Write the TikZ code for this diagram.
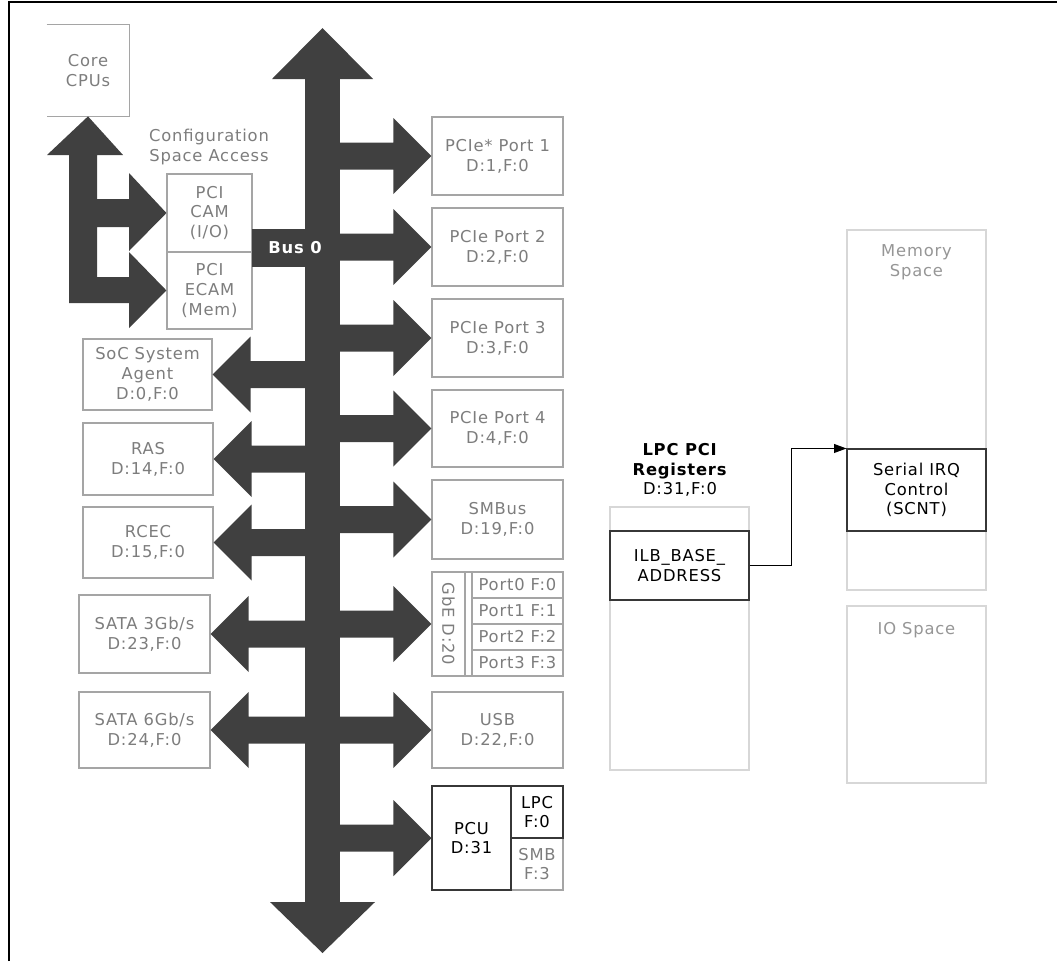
\documentclass[tikz,border=0pt]{standalone}
\usepackage{fontspec}
\setmainfont{DejaVu Sans}[LetterSpace=5]
\usetikzlibrary{arrows.meta,calc}
\definecolor{busgray}{RGB}{64,64,64}
\definecolor{edgegray}{RGB}{165,165,165}
\definecolor{palegray}{RGB}{215,215,215}
\definecolor{txtgray}{RGB}{125,125,125}
\definecolor{paletxt}{RGB}{150,150,150}
\definecolor{darkedge}{RGB}{55,55,55}
\tikzset{
  >={Triangle[length=7pt,width=5pt]},
  wh/.style 2 args={minimum width=#1*0.02cm,minimum height=#2*0.02cm},
  base/.style={inner sep=0pt,align=center,font=\fontsize{9.3}{11.3}\selectfont},
  gbox/.style={base,draw=edgegray,line width=0.6pt,fill=white,text=txtgray},
  kbox/.style={base,draw=darkedge,line width=0.6pt,fill=white,text=black},
  pbox/.style={base,draw=palegray,line width=0.8pt,fill=white,text=paletxt},
  tag/.style={base,text=txtgray},
  bus/.style={fill=busgray},
}
\begin{document}
\begin{tikzpicture}[x=0.02cm,y=-0.02cm]
  \useasboundingbox (0,0) rectangle (1057,961);
  % frame
  \draw[line width=0.035cm] (9,961) -- (9,2) -- (1057,2);

  % core cpus and configuration access
  \node[base,wh={82}{91},text=txtgray] (cpu) at (88,70.5) {Core\\CPUs};
  \draw[edgegray,line width=0.6pt] (cpu.north west) -- (cpu.north east) -- (cpu.south east) -- (cpu.south west);
  \node[tag] (cfg) at (209,147) {Configuration\\Space Access};
  \node[gbox,wh={85}{78}] (cam) at (209.5,213) {PCI\\CAM\\(I/O)};
  \node[gbox,wh={85}{77}] (ecam) at (209.5,290.5) {PCI\\ECAM\\(Mem)};
  \fill[bus] (cpu.south) -- (123,155) -- (97,155) -- (97,199) -- (129,199) -- (129,173)
    -- (cam.west) -- (129,251) -- (129,227) -- (97,227) -- (97,277) -- (129,277) -- (129,252)
    -- (ecam.west) -- (129,328) -- (129,303) -- (69,303) -- (69,155) -- (47,155) -- cycle;

  % left side devices
  \node[gbox,wh={129}{71}] (soc) at (147.5,374.5) {SoC System\\Agent\\D:0,F:0};
  \node[gbox,wh={130}{72}] (ras) at (148,459) {RAS\\D:14,F:0};
  \node[gbox,wh={130}{71}] (rcec) at (148,542.5) {RCEC\\D:15,F:0};
  \node[gbox,wh={131}{78}] (sata3) at (144.5,634) {SATA 3Gb/s\\D:23,F:0};
  \node[gbox,wh={131}{76}] (sata6) at (144.5,730) {SATA 6Gb/s\\D:24,F:0};

  % right side devices
  \node[gbox,wh={131}{78}] (pcie1) at (497.5,156) {PCIe* Port 1\\D:1,F:0};
  \node[gbox,wh={131}{78}] (pcie2) at (497.5,247) {PCIe Port 2\\D:2,F:0};
  \node[gbox,wh={131}{78}] (pcie3) at (497.5,338) {PCIe Port 3\\D:3,F:0};
  \node[gbox,wh={131}{77}] (pcie4) at (497.5,428.5) {PCIe Port 4\\D:4,F:0};
  \node[gbox,wh={131}{79}] (smbus) at (497.5,519.5) {SMBus\\D:19,F:0};
  \node[gbox,wh={131}{104}] (gbe) at (497.5,624) {};
  \node[tag,rotate=-90] (gbelbl) at (448.5,624) {GbE D:20};
  \draw[edgegray,line width=0.6pt] (465,572) -- (465,676);
  \foreach \i/\y in {0/585,1/611,2/637,3/663}
    \node[gbox,wh={91}{26}] (port\i) at (517.5,\y) {Port\i{} F:\i};
  \node[gbox,wh={131}{76}] (usb) at (497.5,730) {USB\\D:22,F:0};
  \node[gbox,wh={52}{52}] (smb) at (537,864) {SMB\\F:3};
  \node[kbox,wh={79}{104}] (pcu) at (471.5,838) {PCU\\D:31};
  \node[kbox,wh={52}{52}] (lpc) at (537,812) {LPC\\F:0};

  % bus 0
  \fill[bus] (305,79) rectangle (340,902);
  \fill[bus] (272,79) -- (322.5,28) -- (373,79) -- cycle;
  \fill[bus] (270,902) -- (322.5,953) -- (375,902) -- cycle;
  \fill[bus] (252,229) rectangle (306,267);
  \node[base,text=white,font=\fontsize{9.3}{11.3}\selectfont\bfseries] (bus0) at (295,248) {Bus 0};
  \foreach \n in {pcie1,pcie2,pcie3,pcie4,smbus,gbe,usb,pcu}
    \fill[bus] (\n.west) -- ++(-38,38) -- ++(0,-24.5) -- ++(-58,0) -- ++(0,-27) -- ++(58,0) -- ++(0,-24.5) -- cycle;
  \foreach \n in {soc,ras,rcec,sata3,sata6}
    \fill[bus] (\n.east) -- ++(38,38) -- ++(0,-24.5) -- ++(60,0) -- ++(0,-27) -- ++(-60,0) -- ++(0,-24.5) -- cycle;

  % lpc registers and address spaces
  \node[base,text=black] (lpctitle) at (680,470) {\textbf{LPC PCI}\\\textbf{Registers}\\D:31,F:0};
  \node[pbox,wh={139}{263}] (lpcreg) at (679.5,638.5) {};
  \node[kbox,wh={139}{69}] (ilb) at (679.5,565.5) {ILB\_BASE\_\\ADDRESS};
  \node[pbox,wh={139}{360}] (mem) at (916.5,410) {};
  \node[base,text=paletxt] (memlbl) at (916.5,262) {Memory\\Space};
  \node[kbox,wh={139}{82}] (sirq) at (916.5,490) {Serial IRQ\\Control\\(SCNT)};
  \node[pbox,wh={139}{177}] (io) at (916.5,694.5) {};
  \node[base,text=paletxt] (iolbl) at (916.5,630) {IO Space};
  \draw[->,line width=0.6pt] (ilb.east) -- ++(42,0) |- (sirq.north west);
\end{tikzpicture}
\end{document}
